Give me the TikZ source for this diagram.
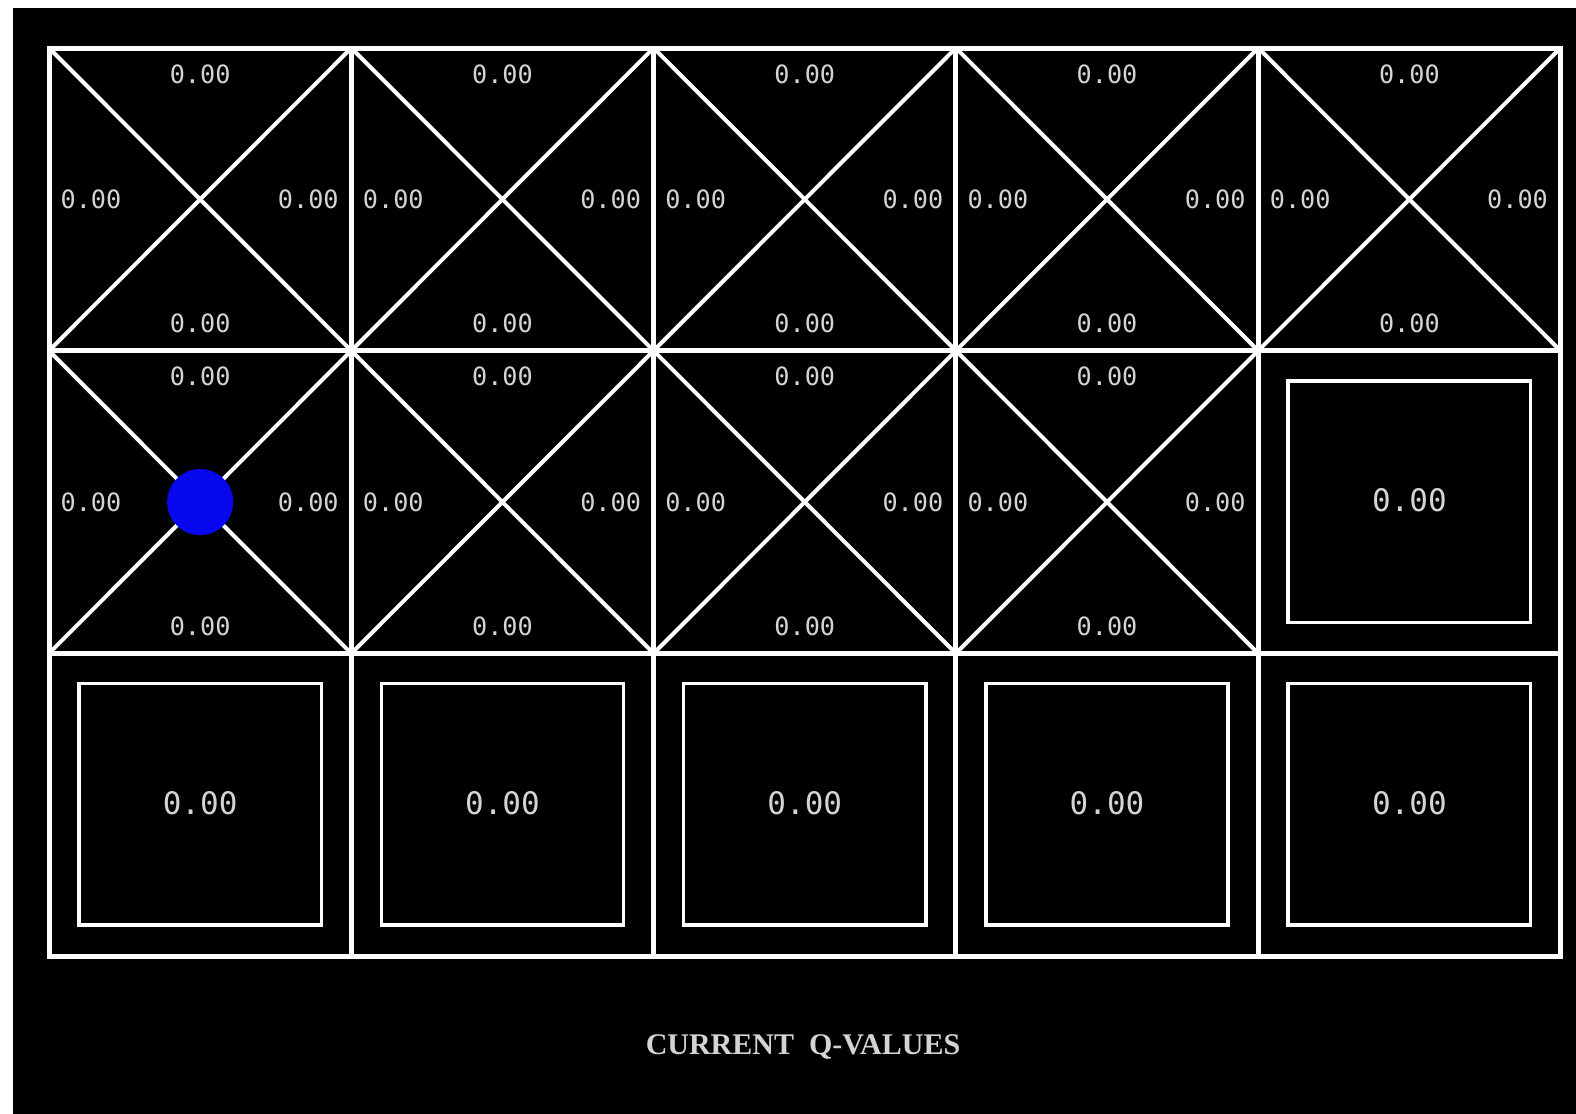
\documentclass[tikz,border=0pt]{standalone}
\usepackage{fontspec}
\usetikzlibrary{positioning,calc}
\newfontfamily\qfont{DejaVu Sans Mono}
\newfontfamily\titlefont{Liberation Serif}
\definecolor{qgray}{RGB}{212,212,212}
\definecolor{agentblue}{RGB}{8,8,240}

\begin{document}
\begin{tikzpicture}[x=0.5pt,y=-0.5pt,
    gridline/.style={white, line width=2.5pt, line cap=rect},
    diagline/.style={white, line width=2pt},
    boxline/.style={white, line width=1.8pt},
    qval/.style={text=qgray, inner sep=0pt, font=\qfont\fontsize{12.6}{13}\selectfont},
    bigval/.style={text=qgray, inner sep=0pt, font=\qfont\fontsize{15.5}{16}\selectfont}]
  \useasboundingbox (0,0) rectangle (1576,1114);
  \fill[white] (0,0) rectangle (1576,1114);
  \fill[black] (13,8) rectangle (1576,1114);
  % cells: crossed ones carry four values, boxed ones one
  \foreach \r in {0,1,2} {
    \foreach \c in {0,...,4} {
      \pgfmathsetmacro\xa{49+\c*302.3}
      \pgfmathsetmacro\xb{\xa+302.3}
      \pgfmathsetmacro\ya{48+\r*302.7}
      \pgfmathsetmacro\yb{\ya+302.7}
      \pgfmathsetmacro\ym{\ya+151.35}
      \pgfmathsetmacro\xm{\xa+151.15}
      \pgfmathtruncatemacro\isbox{(\r==2)||(\r==1&&\c==4)}
      \coordinate (c\r\c) at (\xm,\ym);
      \ifnum\isbox=1
        \draw[boxline] (\xa+30,\ya+30) rectangle (\xb-30,\yb-31);
        \node[bigval] (v\r\c) at (\xm,\ym-2) {0.00};
      \else
        \draw[diagline] (\xa,\ya) -- (\xb,\yb) (\xa,\yb) -- (\xb,\ya);
        \node[qval] (up\r\c) at (\xm,\ya+26) {0.00};
        \node[qval] (down\r\c) at (\xm,\yb-27) {0.00};
        \node[qval] (left\r\c) at (\xa+42,\ym) {0.00};
        \node[qval] (right\r\c) at (\xb-43,\ym) {0.00};
      \fi
    }
  }
  % grid on top
  \foreach \i in {0,...,5}
    \draw[gridline] (49+\i*302.3,48) -- (49+\i*302.3,956);
  \foreach \j in {0,...,3}
    \draw[gridline] (49,48+\j*302.7) -- (1560.5,48+\j*302.7);
  % agent
  \node[circle, fill=agentblue, minimum size=33pt, inner sep=0pt] (agent) at (c10) {};
  \node[text=qgray, font=\titlefont\bfseries\fontsize{15}{16}\selectfont] (title) at (803,1047) {CURRENT\hspace{0.5em}Q-VALUES};
\end{tikzpicture}
\end{document}
